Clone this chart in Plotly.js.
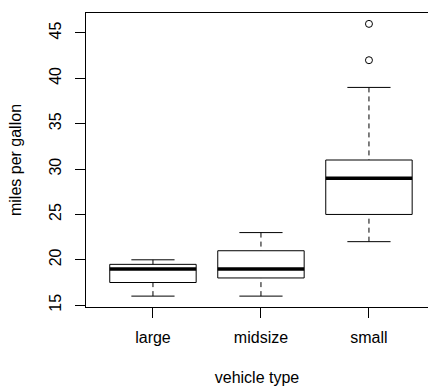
<!DOCTYPE html>
<html>
<head>
<meta charset="utf-8">
<script src="https://cdn.plot.ly/plotly-3.0.1.min.js"></script>
<style>html,body{margin:0;padding:0;background:#fff;}#chart{width:428px;height:386px;}</style>
</head>
<body>
<div id="chart"></div>
<script>
// Data
const categories = ["large", "midsize", "small"];
const lowerWhisker = [16, 16, 22];
const q1 = [17.5, 18, 25];
const median = [19, 19, 29];
const q3 = [19.5, 21, 31];
const upperWhisker = [20, 23, 39];
const outlierCat = [3, 3];
const outlierVal = [42, 46];
const yTicks = [15, 20, 25, 30, 35, 40, 45];

const HW = 0.4, CAP = 0.2;
const pos = categories.map((c, i) => i + 1);

const boxX = [], boxY = [], medX = [], medY = [], whX = [], whY = [], capX = [], capY = [];
pos.forEach((p, i) => {
  boxX.push(p - HW, p + HW, p + HW, p - HW, p - HW, null);
  boxY.push(q1[i], q1[i], q3[i], q3[i], q1[i], null);
  medX.push(p - HW, p + HW, null);
  medY.push(median[i], median[i], null);
  whX.push(p, p, null, p, p, null);
  whY.push(lowerWhisker[i], q1[i], null, upperWhisker[i], q3[i], null);
  capX.push(p - CAP, p + CAP, null, p - CAP, p + CAP, null);
  capY.push(lowerWhisker[i], lowerWhisker[i], null, upperWhisker[i], upperWhisker[i], null);
});

const traces = [
  {x: whX, y: whY, mode: 'lines', line: {color: '#000', width: 1, dash: '5px,4px'}, hoverinfo: 'skip'},
  {x: capX, y: capY, mode: 'lines', line: {color: '#000', width: 1}, hoverinfo: 'skip'},
  {x: boxX, y: boxY, mode: 'lines', line: {color: '#000', width: 1}, hoverinfo: 'skip'},
  {x: medX, y: medY, mode: 'lines', line: {color: '#000', width: 3.5}, hoverinfo: 'skip'},
  {x: outlierCat, y: outlierVal, mode: 'markers', marker: {symbol: 'circle-open', size: 7, color: '#000', line: {width: 1}}, hoverinfo: 'skip'}
];

const font = {family: 'Liberation Sans, Arial, sans-serif', size: 16, color: '#000'};
const layout = {
  width: 428, height: 386,
  margin: {l: 86, r: 0, t: 13, b: 79, pad: 0},
  paper_bgcolor: '#fff', plot_bgcolor: '#fff',
  showlegend: false,
  font: font,
  xaxis: {
    range: [0.38, 0.38 + 342 / 108],
    tickvals: pos, ticktext: categories,
    ticks: 'outside', ticklen: 10, tickwidth: 1, tickcolor: '#000',
    ticklabelstandoff: 6,
    showline: true, linecolor: '#000', linewidth: 1, mirror: true,
    showgrid: false, zeroline: false,
    tickfont: font,
    title: {text: 'vehicle type', font: font, standoff: 26}
  },
  yaxis: {
    range: [14.8, 47.2],
    tickvals: yTicks, ticktext: yTicks.map(String),
    tickangle: -90,
    ticks: 'outside', ticklen: 10, tickwidth: 1, tickcolor: '#000',
    ticklabelstandoff: 8,
    showline: true, linecolor: '#000', linewidth: 1,
    showgrid: false, zeroline: false,
    tickfont: font,
    title: {text: 'miles per gallon', font: font, standoff: 20}
  }
};

Plotly.newPlot('chart', traces, layout, {displayModeBar: false, staticPlot: true});
</script>
</body>
</html>
